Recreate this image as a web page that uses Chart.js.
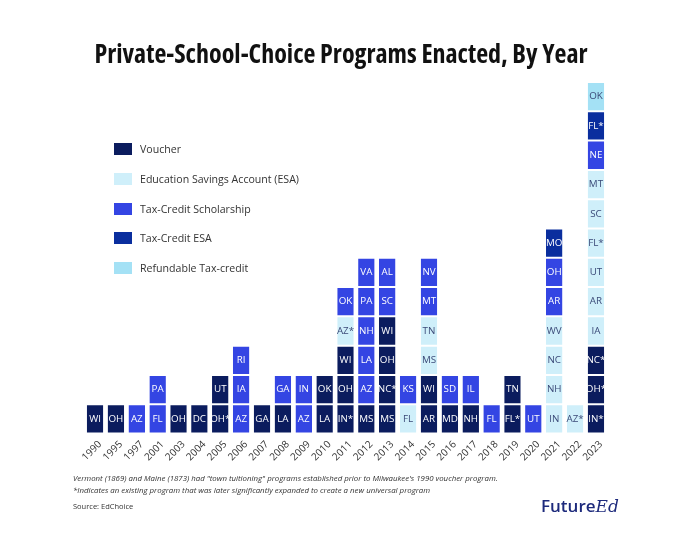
<!DOCTYPE html>
<html>
<head>
<meta charset="utf-8">
<script src="https://cdn.jsdelivr.net/npm/chart.js@4"></script>
<style>
  html, body { margin: 0; padding: 0; background: #fff; }
  #wrap { position: relative; width: 680px; height: 538px; overflow: hidden; font-family: "Open Sans", sans-serif; }
  #wrap canvas { position: absolute; left: 0; top: 0; }
  #title { position: absolute; left: 0; width: 682px; top: 35px; text-align: center; font-family: "Open Sans", sans-serif; font-weight: 700; font-stretch: 75%; font-size: 26px; color: #111; }
  #legend { position: absolute; left: 114px; top: 141px; }
  .item { position: relative; height: 29.8px; font-size: 10.6px; color: #333; white-space: nowrap; }
  .item span.box { position: absolute; left: 0; top: 2px; width: 18px; height: 12px; }
  .item span.txt { position: absolute; left: 26px; top: 0; line-height: 16px; }
  .note { position: absolute; left: 73px; font-size: 7.85px; font-style: italic; color: #333; white-space: nowrap; }
  #source { position: absolute; left: 73px; top: 501px; font-size: 7.5px; color: #333; }
  #logo { position: absolute; left: 541px; top: 494px; color: #1d2a7c; font-size: 17px; font-weight: 600; }
  #logo i { font-family: "DejaVu Serif", serif; font-weight: 400; font-size: 17px; }
</style>
</head>
<body>
<div id="wrap">
  <canvas id="myChart" width="680" height="538"></canvas>
  <div id="title">Private-School-Choice Programs Enacted, By Year</div>
  <div id="legend"></div>
  <div class="note" style="top:473px">Vermont (1869) and Maine (1873) had "town tuitioning" programs established prior to Milwaukee's 1990 voucher program.</div>
  <div class="note" style="top:485px">*Indicates an existing program that was later significantly expanded to create a new universal program</div>
  <div id="source">Source: EdChoice</div>
  <div id="logo">Future<i>Ed</i></div>
</div>
<script>
// years on the x axis
const years = ['1990', '1995', '1997', '2001', '2003', '2004', '2005', '2006', '2007', '2008', '2009', '2010', '2011',
    '2012', '2013', '2014', '2015', '2016', '2017', '2018', '2019', '2020', '2021', '2022', '2023'];

// states enacted each year, per program type, bottom to top
const voucher = ['WI', 'OH', '', '', 'OH', 'DC', 'OH*,UT', '', 'GA', 'LA', '', 'LA,OK', 'IN*,OH,WI',
    'MS', 'MS,NC*,OH,WI', '', 'AR,WI', 'MD', 'NH', '', 'FL*,TN', '', '', '', 'IN*,OH*,NC*'];
const esa = ['', '', '', '', '', '', '', '', '', '', '', '', 'AZ*',
    '', '', 'FL', 'MS,TN', '', '', '', '', '', 'IN,NH,NC,WV', 'AZ*', 'IA,AR,UT,FL*,SC,MT'];
const taxCreditScholarship = ['', '', 'AZ', 'FL,PA', '', '', '', 'AZ,IA,RI', '', 'GA', 'AZ,IN', '', 'OK',
    'AZ,LA,NH,PA,VA', 'SC,AL', 'KS', 'MT,NV', 'SD', 'IL', 'FL', '', 'UT', 'AR,OH', '', 'NE'];
const taxCreditEsa = ['', '', '', '', '', '', '', '', '', '', '', '', '',
    '', '', '', '', '', '', '', '', '', 'MO', '', 'FL*'];
const refundableTaxCredit = ['', '', '', '', '', '', '', '', '', '', '', '', '',
    '', '', '', '', '', '', '', '', '', '', '', 'OK'];

const typeNames = ['Voucher', 'Education Savings Account (ESA)', 'Tax-Credit Scholarship', 'Tax-Credit ESA', 'Refundable Tax-credit'];
const typeColors = ['#0b1c5e', '#cfeffa', '#3445e3', '#0a2e9e', '#a4e1f5'];
const typeText = ['#ffffff', '#3b4a78', '#ffffff', '#ffffff', '#3b4a78'];

// builds the stack of cells for each year
const typeLists = [voucher, esa, taxCreditScholarship, taxCreditEsa, refundableTaxCredit];
const stacks = years.map(function(y, i) {
    const cells = [];
    typeLists.forEach(function(list, t) {
        if (list[i]) list[i].split(',').forEach(function(s) { cells.push({ state: s, type: t }); });
    });
    return cells;
});
const maxRows = Math.max.apply(null, stacks.map(function(c) { return c.length; }));

// one dataset per row of the stack
const datasets = [];
for (let r = 0; r < maxRows; r++) {
    datasets.push({
        label: 'row ' + (r + 1),
        data: stacks.map(function(c) { return c[r] ? 1 : null; }),
        backgroundColor: stacks.map(function(c) { return c[r] ? typeColors[c[r].type] : 'transparent'; }),
        cellLabels: stacks.map(function(c) { return c[r] ? c[r].state : ''; }),
        cellText: stacks.map(function(c) { return c[r] ? typeText[c[r].type] : ''; }),
        borderColor: '#ffffff',
        borderWidth: { top: 1, bottom: 1, left: 0, right: 0 },
        borderSkipped: false,
        categoryPercentage: 1,
        barPercentage: 0.79
    });
}

// draws the state names inside the cells
const cellLabelPlugin = {
    id: 'cellLabels',
    afterDatasetsDraw: function(chart) {
        const ctx = chart.ctx;
        ctx.save();
        ctx.font = '9.8px "Open Sans", sans-serif';
        ctx.textAlign = 'center';
        ctx.textBaseline = 'middle';
        chart.data.datasets.forEach(function(ds, d) {
            chart.getDatasetMeta(d).data.forEach(function(bar, i) {
                if (!ds.cellLabels[i]) return;
                ctx.fillStyle = ds.cellText[i];
                ctx.fillText(ds.cellLabels[i], bar.x, (bar.y + bar.base) / 2);
            });
        });
        ctx.restore();
    }
};

// html legend
const legendEl = document.getElementById('legend');
typeNames.forEach(function(n, t) {
    const it = document.createElement('div');
    it.className = 'item';
    it.innerHTML = '<span class="box" style="background:' + typeColors[t] + '"></span><span class="txt">' + n + '</span>';
    legendEl.appendChild(it);
});

const ctx = document.getElementById('myChart').getContext('2d');
new Chart(ctx, {
    type: 'bar',
    data: { labels: years, datasets: datasets },
    options: {
        responsive: false,
        animation: false,
        layout: { padding: { left: 84.6, right: 73.6, top: 82, bottom: 64 } },
        plugins: { legend: { display: false }, tooltip: { enabled: false } },
        scales: {
            x: {
                stacked: true,
                grid: { display: false },
                border: { display: false },
                ticks: {
                    autoSkip: false, minRotation: 45, maxRotation: 45, padding: -3, labelOffset: 5,
                    color: '#333', font: { family: 'Open Sans', size: 10 }
                },
                afterFit: function(scale) { scale.height = 40.5; }
            },
            y: { stacked: true, display: false, min: 0, max: 12 }
        }
    },
    plugins: [cellLabelPlugin]
});
</script>
</body>
</html>
